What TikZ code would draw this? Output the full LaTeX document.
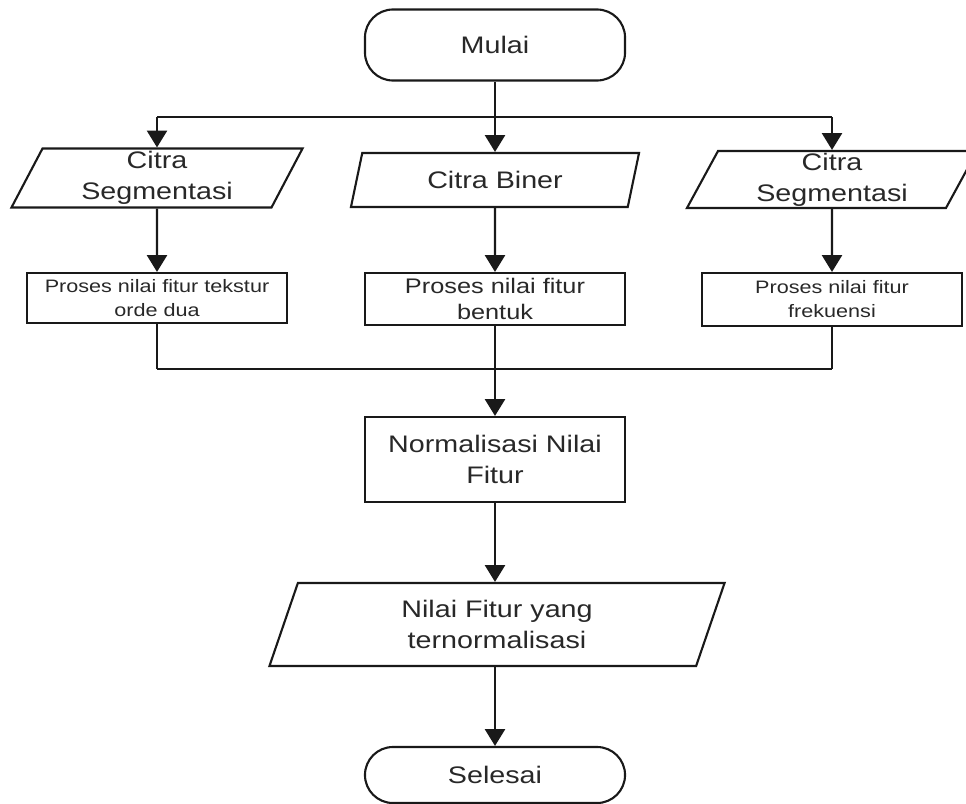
\documentclass[tikz,border=0pt]{standalone}
\usepackage{fontspec}
\setmainfont{Liberation Sans}[FakeStretch=1.2]
\usetikzlibrary{arrows.meta,shapes.geometric}
\definecolor{fLine}{RGB}{25,25,25}
\definecolor{fText}{RGB}{40,40,40}
\newcommand{\flowfont}{\fontsize{17}{22}\selectfont}
\newcommand{\procfont}{\fontsize{15}{18}\selectfont}
\newcommand{\smallproc}{\fontsize{12.8}{17}\selectfont}

\begin{document}
\begin{tikzpicture}[
			x=0.025cm,y=-0.025cm,
			terminal/.style={
				draw=fLine,
				line width=1.5pt,
				rounded corners=0.7cm,
				minimum width=6.5cm,
				align=center,
				text=fText,
				font=\flowfont
			},
			iobox/.style={
				draw=fLine,
				line width=1.5pt,
				trapezium,
				trapezium stretches body,
				trapezium left angle=61,
				trapezium right angle=119,
				inner sep=1pt,
				align=center,
				text=fText,
				font=\flowfont
			},
			procbox/.style={
				draw=fLine,
				line width=1.5pt,
				minimum width=6.5cm,
				inner sep=1pt,
				align=center,
				text=fText
			},
			flowline/.style={draw=fLine,line width=1.6pt},
			flowarrow/.style={flowline,-{Triangle[width=0.5cm,length=0.42cm]}}
			]
			\useasboundingbox (0,0) rectangle (966,803);
			% start and end
			\node[terminal,minimum height=1.775cm] (mulai) at (495,45) {Mulai};
			\node[terminal,minimum height=1.4cm] (selesai) at (495,775) {Selesai};
			% input images
			\node[iobox,minimum width=7.275cm,minimum height=1.475cm] (in1) at (157,178) {Citra\\Segmentasi};
			\node[iobox,minimum width=7.2cm,minimum height=1.35cm] (in2) at (495,180) {Citra Biner};
			\node[iobox,minimum width=7.25cm,minimum height=1.425cm] (in3) at (832,179.5) {Citra\\Segmentasi};
			% feature processes
			\node[procbox,minimum height=1.25cm,font=\smallproc] (proc1) at (157,298) {Proses nilai fitur tekstur\\orde dua};
			\node[procbox,minimum height=1.3cm,font=\procfont] (proc2) at (495,299) {Proses nilai fitur\\bentuk};
			\node[procbox,minimum height=1.325cm,font=\smallproc] (proc3) at (832,299.5) {Proses nilai fitur\\frekuensi};
			% normalisation
			\node[procbox,minimum height=2.125cm,font=\flowfont] (norm) at (495,459.5) {Normalisasi Nilai\\Fitur};
			\node[iobox,minimum width=11.375cm,minimum height=2.075cm] (out) at (497,624.5) {Nilai Fitur yang\\ternormalisasi};
			% connectors
			\coordinate (split) at (495,117);
			\coordinate (merge) at (495,369);
			\draw[flowline] (mulai.south) -- (split);
			\draw[flowline] (in1.north |- split) -- (in3.north |- split);
			\foreach \n in {in1,in2,in3}
				\draw[flowarrow] (\n.north |- split) -- (\n.north);
			\draw[flowarrow] (in1) -- (proc1);
			\draw[flowarrow] (in2) -- (proc2);
			\draw[flowarrow] (in3) -- (proc3);
			\foreach \n in {proc1,proc2,proc3}
				\draw[flowline] (\n.south) -- (\n.south |- merge);
			\draw[flowline] (proc1.south |- merge) -- (proc3.south |- merge);
			\draw[flowarrow] (merge) -- (norm.north);
			\draw[flowarrow] (norm.south) -- (norm.south |- out.north);
			\draw[flowarrow] (out.south -| selesai.north) -- (selesai.north);
		\end{tikzpicture}
\end{document}
